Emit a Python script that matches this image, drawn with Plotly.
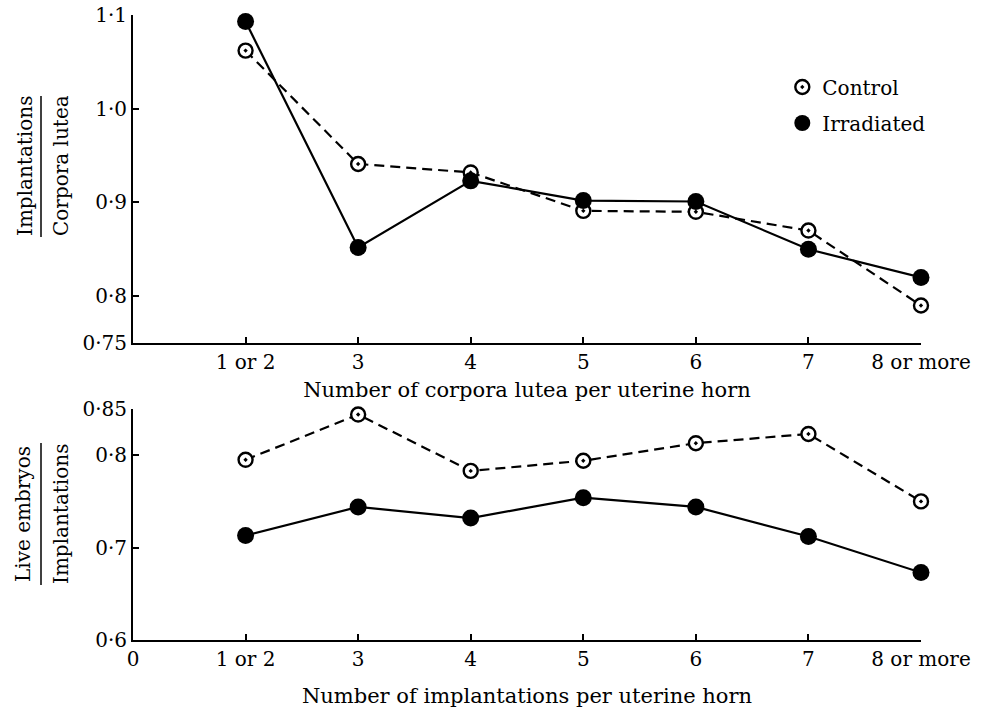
import plotly.graph_objects as go

# ---- data ----
x_pos = [1, 2, 3, 4, 5, 6, 7]
x_labels = ["1 or 2", "3", "4", "5", "6", "7", "8 or more"]

top_control = [1.062, 0.941, 0.932, 0.891, 0.890, 0.870, 0.790]
top_irradiated = [1.093, 0.852, 0.923, 0.902, 0.901, 0.850, 0.820]

bot_control = [0.795, 0.844, 0.783, 0.794, 0.813, 0.823, 0.750]
bot_irradiated = [0.713, 0.744, 0.732, 0.754, 0.744, 0.712, 0.673]

top_yticks = [0.75, 0.8, 0.9, 1.0, 1.1]
top_ylabels = ["0·75", "0·8", "0·9", "1·0", "1·1"]
bot_yticks = [0.6, 0.7, 0.8, 0.85]
bot_ylabels = ["0·6", "0·7", "0·8", "0·85"]

FONT = "DejaVu Serif"
FS = 20
BLACK = "black"

ctrl_marker = dict(symbol="circle-dot", size=14, color="white",
                   line=dict(color=BLACK, width=2.4))
irr_marker = dict(symbol="circle", size=17, color=BLACK,
                  line=dict(color=BLACK, width=0))
ctrl_line = dict(color=BLACK, width=2.2, dash="10px,6px")
irr_line = dict(color=BLACK, width=2.2)

fig = go.Figure()

# top panel
fig.add_trace(go.Scatter(x=x_pos, y=top_control, mode="lines+markers",
                         line=ctrl_line, marker=ctrl_marker, showlegend=False,
                         cliponaxis=False, xaxis="x", yaxis="y"))
fig.add_trace(go.Scatter(x=x_pos, y=top_irradiated, mode="lines+markers",
                         line=irr_line, marker=irr_marker, showlegend=False,
                         cliponaxis=False, xaxis="x", yaxis="y"))
# bottom panel
fig.add_trace(go.Scatter(x=x_pos, y=bot_control, mode="lines+markers",
                         line=ctrl_line, marker=ctrl_marker, showlegend=False,
                         cliponaxis=False, xaxis="x2", yaxis="y2"))
fig.add_trace(go.Scatter(x=x_pos, y=bot_irradiated, mode="lines+markers",
                         line=irr_line, marker=irr_marker, showlegend=False,
                         cliponaxis=False, xaxis="x2", yaxis="y2"))
# legend entries (marker only)
fig.add_trace(go.Scatter(x=[None], y=[None], mode="markers", name="Control",
                         marker=ctrl_marker, legendgroup="a", xaxis="x", yaxis="y"))
fig.add_trace(go.Scatter(x=[None], y=[None], mode="markers", name="Irradiated",
                         marker=irr_marker, legendgroup="b", xaxis="x", yaxis="y"))

axis_common = dict(showline=True, linecolor=BLACK, linewidth=2, ticks="inside",
                   ticklen=6, tickwidth=1.5, tickcolor=BLACK, showgrid=False,
                   zeroline=False, automargin=False, ticklabeloverflow="allow",
                   tickfont=dict(family=FONT, size=FS, color=BLACK))

fig.update_layout(
    width=991, height=710,
    margin=dict(l=133, r=70, t=15, b=70),
    paper_bgcolor="white", plot_bgcolor="white",
    font=dict(family=FONT, size=FS, color=BLACK),
    xaxis=dict(domain=[0, 1], range=[0, 7], anchor="y",
               tickvals=x_pos, ticktext=x_labels,
               title=dict(text="Number of corpora lutea per uterine horn",
                          font=dict(family=FONT, size=21), standoff=9),
               **axis_common),
    yaxis=dict(domain=[0.4752, 1], range=[0.75, 1.1], anchor="x",
               tickvals=top_yticks, ticktext=top_ylabels, **axis_common),
    xaxis2=dict(domain=[0, 1], range=[0, 7], anchor="y2",
                tickvals=[0] + x_pos, ticktext=["0"] + x_labels,
                title=dict(text="Number of implantations per uterine horn",
                           font=dict(family=FONT, size=21), standoff=18),
                **axis_common),
    yaxis2=dict(domain=[0, 0.3696], range=[0.6, 0.85], anchor="x2",
                tickvals=bot_yticks, ticktext=bot_ylabels, **axis_common),
    legend=dict(x=0.824, y=0.916, xanchor="left", yanchor="top",
                bgcolor="rgba(0,0,0,0)", tracegroupgap=7,
                font=dict(family=FONT, size=FS, color=BLACK)),
)

# y-axis fraction titles (positions given in page pixels, converted to paper)
def px_x(p):
    return (p - 133) / 788.0

def px_y(p):
    return (640 - p) / 625.0

annos = [
    ("Implantations", 25, 166),
    ("Corpora lutea", 61, 166),
    ("Live embryos", 23, 514),
    ("Implantations", 61, 514),
]
for text, xp, yp in annos:
    fig.add_annotation(text=text, x=px_x(xp), y=px_y(yp), xref="paper", yref="paper",
                       textangle=-90, showarrow=False, xanchor="center", yanchor="middle",
                       font=dict(family=FONT, size=FS, color=BLACK))

fig.add_shape(type="line", xref="paper", yref="paper",
              x0=px_x(41), x1=px_x(41), y0=px_y(96), y1=px_y(237),
              line=dict(color=BLACK, width=1.5))
fig.add_shape(type="line", xref="paper", yref="paper",
              x0=px_x(41), x1=px_x(41), y0=px_y(443), y1=px_y(585),
              line=dict(color=BLACK, width=1.5))

# remove the page's default body margin so the figure fills the window exactly
fig.write_html("out.html", config={"displayModeBar": False},
               post_script="document.body.style.margin='0';document.body.style.overflow='hidden';")
